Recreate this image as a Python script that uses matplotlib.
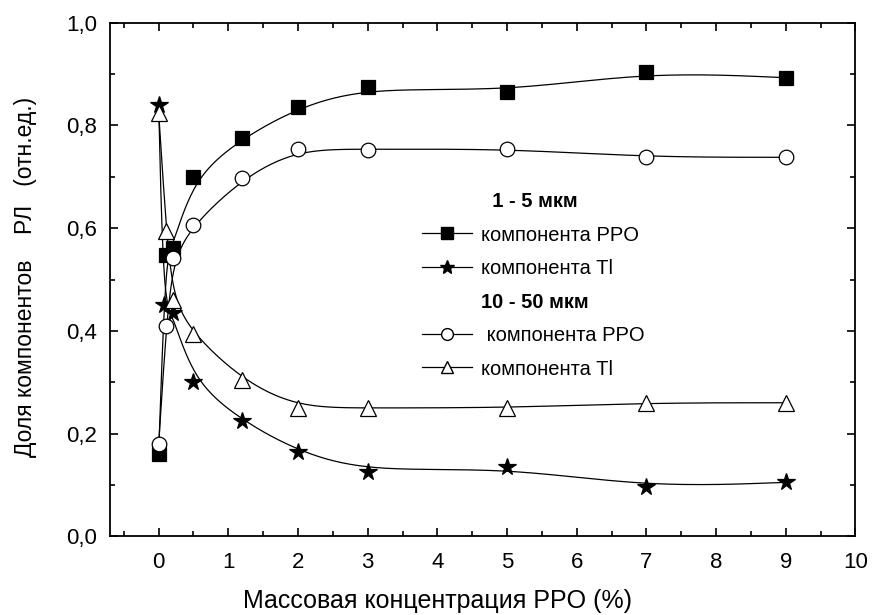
import numpy as np
import matplotlib

matplotlib.use("Agg")
import matplotlib.pyplot as plt  # noqa: E402
from matplotlib.lines import Line2D  # noqa: E402
from matplotlib.ticker import MultipleLocator, FuncFormatter  # noqa: E402

plt.rcParams["font.family"] = ["Liberation Sans", "DejaVu Sans"]

# mass concentration of PPO, %
conc_small = [0.0, 0.1, 0.2, 0.5, 1.2, 2.0, 3.0, 5.0, 7.0, 9.0]
conc_small_tl = [0.0, 0.07, 0.2, 0.5, 1.2, 2.0, 3.0, 5.0, 7.0, 9.0]
conc_large = [0.0, 0.11, 0.21, 0.5, 1.2, 2.0, 3.0, 5.0, 7.0, 9.0]

# 1 - 5 um grains
ppo_small = [0.16, 0.548, 0.562, 0.70, 0.775, 0.835, 0.875, 0.865, 0.905, 0.893]
tl_small = [0.84, 0.45, 0.434, 0.30, 0.225, 0.165, 0.125, 0.135, 0.095, 0.105]

# 10 - 50 um grains
ppo_large = [0.18, 0.41, 0.542, 0.607, 0.697, 0.755, 0.753, 0.755, 0.738, 0.738]
tl_large = [0.825, 0.595, 0.46, 0.393, 0.304, 0.25, 0.25, 0.25, 0.26, 0.26]


def bspline(xs, ys, n=30):
    """Clamped uniform cubic B-spline with the points as control polygon."""
    pts = np.column_stack([xs, ys]).astype(float)
    pts = np.vstack([pts[:1], pts[:1], pts, pts[-1:], pts[-1:]])
    m = np.array([[-1, 3, -3, 1], [3, -6, 3, 0], [-3, 0, 3, 0], [1, 4, 1, 0]]) / 6.0
    t = np.linspace(0, 1, n)
    tt = np.column_stack([t ** 3, t ** 2, t, np.ones_like(t)])
    out = [tt @ m @ pts[i:i + 4] for i in range(len(pts) - 3)]
    out = np.vstack(out)
    return out[:, 0], out[:, 1]


fig = plt.figure(figsize=(8.72, 6.15), dpi=100)
ax = fig.add_axes([0.126, 0.128, 0.855, 0.835])

series = [
    (conc_small, ppo_small, dict(marker="s", ms=9.5, mfc="black", mec="black")),
    (conc_small_tl, tl_small, dict(marker="*", ms=13, mfc="black", mec="black")),
    (conc_large, ppo_large, dict(marker="o", ms=10.5, mfc="white", mec="black")),
    (conc_large, tl_large, dict(marker="^", ms=11.5, mfc="white", mec="black")),
]
for xs, ys, style in series:
    cx, cy = bspline(xs, ys)
    ax.plot(cx, cy, color="black", lw=0.9, zorder=2)
    ax.plot(xs, ys, ls="none", mew=0.9, zorder=3, **style)

ax.set_xlim(-0.7, 10)
ax.set_ylim(0, 1.0)
ax.xaxis.set_major_locator(MultipleLocator(1))
ax.xaxis.set_minor_locator(MultipleLocator(0.5))
ax.yaxis.set_major_locator(MultipleLocator(0.2))
ax.yaxis.set_minor_locator(MultipleLocator(0.1))
ax.yaxis.set_major_formatter(FuncFormatter(lambda v, _: f"{v:.1f}".replace(".", ",")))
ax.tick_params(which="both", direction="in", top=True, right=True,
               labelsize=16, width=1.2)
ax.tick_params(axis="x", pad=11)
ax.tick_params(axis="y", pad=9)
ax.tick_params(which="major", length=6)
ax.tick_params(which="minor", length=3.5)
for sp in ax.spines.values():
    sp.set_linewidth(1.3)

ax.set_xlabel("Массовая концентрация PPO (%)", fontsize=18)
ax.xaxis.set_label_coords(0.44, -0.103)
ax.set_ylabel("Доля компонентов    РЛ   (отн.ед.)", fontsize=16.5,
              family=["Liberation Sans Narrow", "Liberation Sans", "DejaVu Sans"])
ax.yaxis.set_label_coords(-0.098, 0.505)

blank = Line2D([], [], ls="none", marker="none")
handles = [
    blank,
    Line2D([], [], color="black", lw=0.9, marker="s", ms=8, mfc="black", mec="black"),
    Line2D([], [], color="black", lw=0.9, marker="*", ms=10, mfc="black", mec="black"),
    blank,
    Line2D([], [], color="black", lw=0.9, marker="o", ms=8.5, mfc="white", mec="black"),
    Line2D([], [], color="black", lw=0.9, marker="^", ms=9, mfc="white", mec="black"),
]
labels = ["  1 - 5 мкм", "компонента PPO", "компонента Tl",
          "10 - 50 мкм", " компонента PPO", "компонента Tl"]
leg = ax.legend(handles, labels, loc="upper left", bbox_to_anchor=(0.405, 0.69),
                frameon=False, fontsize=14.5, handlelength=2.5, handletextpad=0.45,
                labelspacing=0.72, borderpad=0)
for i in (0, 3):
    leg.get_texts()[i].set_fontweight("bold")

fig.savefig("out.png", dpi=100)
